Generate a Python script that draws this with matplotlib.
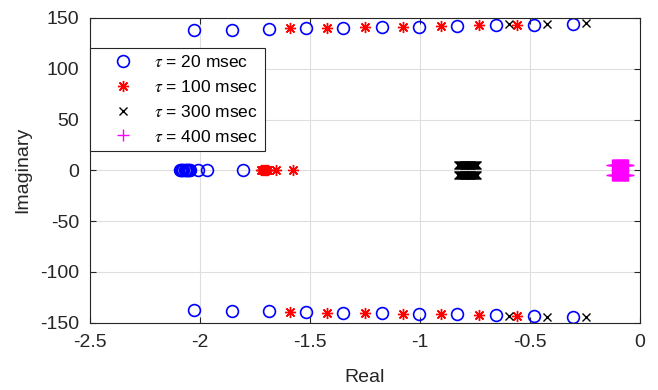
import numpy as np
import matplotlib
matplotlib.use("Agg")
import matplotlib.pyplot as plt

plt.rcParams['font.family'] = ['Liberation Sans', 'DejaVu Sans']
plt.rcParams['mathtext.fontset'] = 'stix'

# tau = 20 msec : complex-pair roots (upper half) and real roots
re20 = [-2.027, -1.855, -1.686, -1.518, -1.350, -1.173, -1.005, -0.832, -0.655, -0.482, -0.305]
im20 = [138.0, 138.5, 139.0, 140.0, 140.5, 141.0, 141.5, 142.0, 143.0, 143.5, 144.5]
re20_real = [-2.090, -2.085, -2.080, -2.075, -2.070, -2.065, -2.060, -2.055, -2.050, -2.045,
             -2.009, -1.968, -1.805]

# tau = 100 msec
re100 = [-1.591, -1.423, -1.250, -1.077, -0.905, -0.732, -0.559]
im100 = [140.0, 140.5, 141.0, 141.5, 142.0, 143.0, 143.5]
re100_real = [-1.722, -1.718, -1.714, -1.710, -1.706, -1.702, -1.698, -1.694, -1.691,
              -1.655, -1.577]

# tau = 300 msec
re300 = [-0.595, -0.423, -0.245]
im300 = [144.0, 144.5, 145.0]
re300_near = [-0.826, -0.822, -0.818, -0.814, -0.810, -0.806, -0.802, -0.798, -0.794,
              -0.790, -0.786, -0.782, -0.778, -0.774, -0.770, -0.766, -0.762, -0.758,
              -0.754, -0.750, -0.746, -0.742]
im300_near = [5.0] * len(re300_near)

# tau = 400 msec
re400_near = [-0.126, -0.123, -0.120, -0.117, -0.114, -0.111, -0.108, -0.105, -0.102,
              -0.099, -0.096, -0.093, -0.090, -0.087, -0.084, -0.081, -0.078, -0.075,
              -0.072, -0.069, -0.066, -0.063, -0.060, -0.057, -0.054]
im400_near = [5.0] * len(re400_near)


def conj(re, im):
    # roots come in conjugate pairs
    return np.concatenate([re, re]), np.concatenate([im, -np.array(im)])


fig = plt.figure(figsize=(6.58, 3.9), dpi=100)
ax = fig.add_axes([90 / 658, 1 - 322.5 / 390, 550 / 658, 304.5 / 390])

x, y = conj(re20, im20)
x = np.concatenate([x, re20_real])
y = np.concatenate([y, np.zeros(len(re20_real))])
ax.plot(x, y, 'o', color='b', mfc='none', ms=8.5, mew=1.2, ls='none',
        label=r'$\tau$ = 20 msec')

x, y = conj(re100, im100)
x = np.concatenate([x, re100_real])
y = np.concatenate([y, np.zeros(len(re100_real))])
ax.plot(x, y, marker=(8, 2, 0), color='r', ms=8, mew=1.0, ls='none',
        label=r'$\tau$ = 100 msec')

x, y = conj(re300 + re300_near, im300 + im300_near)
ax.plot(x, y, 'x', color='k', ms=5.5, mew=1.0, ls='none',
        label=r'$\tau$ = 300 msec')

x, y = conj(re400_near, im400_near)
ax.plot(x, y, '+', color='#ff00ff', ms=8.5, mew=1.0, ls='none',
        label=r'$\tau$ = 400 msec')

ax.set_xlim(-2.5, 0)
ax.set_ylim(-150, 150)
ax.set_xticks(np.arange(-2.5, 0.01, 0.5))
ax.set_xticklabels(['-2.5', '-2', '-1.5', '-1', '-0.5', '0'])
ax.set_yticks(np.arange(-150, 151, 50))
ax.set_yticklabels(['-150', '-100', '-50', '0', '50', '100', '150'])
ax.grid(True, color='#dedede', lw=0.8)
ax.set_axisbelow(True)
ax.tick_params(direction='in', top=True, right=True, labelsize=14,
               colors='#262626', length=4, width=0.8)
ax.tick_params(axis='x', pad=8)
ax.tick_params(axis='y', pad=8)
for s in ax.spines.values():
    s.set_color('#262626')
    s.set_linewidth(0.8)
ax.set_xlabel('Real', fontsize=14, color='#262626', labelpad=13)
ax.set_ylabel('Imaginary', fontsize=14, color='#262626', labelpad=6)

leg = ax.legend(loc='upper left', bbox_to_anchor=(0, 0.903), borderaxespad=0,
                fontsize=12.5, fancybox=False, framealpha=1, edgecolor='#262626',
                handlelength=3.0, handletextpad=0.3, labelspacing=0.5,
                borderpad=0.4, numpoints=1)
leg.get_frame().set_linewidth(0.8)

fig.savefig('out.png', dpi=100)
